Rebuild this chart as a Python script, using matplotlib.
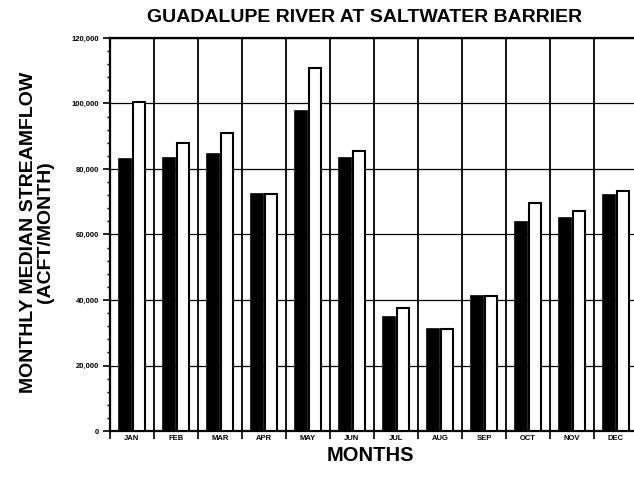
import numpy as np
import matplotlib
matplotlib.use("Agg")
import matplotlib.pyplot as plt
from matplotlib.ticker import MultipleLocator, FuncFormatter

plt.rcParams['font.family'] = ['Liberation Sans', 'DejaVu Sans']

months = ["JAN", "FEB", "MAR", "APR", "MAY", "JUN",
          "JUL", "AUG", "SEP", "OCT", "NOV", "DEC"]
# monthly median streamflow, acre-feet per month
flow_a = [83000, 83500, 84500, 72500, 97700, 83300,
          34800, 31000, 41200, 63800, 65000, 72000]
flow_b = [100500, 88000, 91000, 72500, 110800, 85500,
          37500, 31000, 41200, 69500, 67200, 73400]

fig = plt.figure(figsize=(6.34, 4.86), dpi=100)
# plot area runs a little past the right edge of the page
ax = fig.add_axes([110 / 634, 55 / 486, 528 / 634, 393 / 486])

x = np.arange(len(months))
w = 0.28
ax.bar(x - w / 2 - 0.02, flow_a, w, color="black", edgecolor="black",
       linewidth=1.2, zorder=3)
ax.bar(x + w / 2 + 0.02, flow_b, w, color="white", edgecolor="black",
       linewidth=1.5, zorder=3)

ax.set_xlim(-0.5, 11.5)
ax.set_ylim(0, 120000)

# month boundaries as gridlines, labels in between
ax.set_xticks(np.arange(-0.5, 12, 1))
ax.set_xticklabels([])
ax.set_xticks(x, minor=True)
ax.set_xticklabels(months, minor=True, fontsize=5.5, fontweight="bold")
ax.tick_params(axis="x", which="major", direction="out", length=6,
               width=1.2, color="black")
ax.tick_params(axis="x", which="minor", length=0, pad=3)

ax.yaxis.set_major_locator(MultipleLocator(20000))
ax.yaxis.set_minor_locator(MultipleLocator(4000))
ax.yaxis.set_major_formatter(FuncFormatter(lambda v, p: f"{int(v):,}"))
ax.tick_params(axis="y", which="major", direction="out", length=5,
               width=1.2, labelsize=5.5, pad=3)
ax.tick_params(axis="y", which="minor", direction="out", length=2.5,
               width=1.0)
for lab in ax.get_yticklabels():
    lab.set_fontweight("bold")

ax.grid(True, which="major", axis="x", color="black", linewidth=1.3, zorder=0)
ax.grid(True, which="major", axis="y", color="black", linewidth=0.9, zorder=0)

for side in ["left", "bottom", "top"]:
    ax.spines[side].set_linewidth(1.6)
ax.spines["right"].set_visible(False)

fig.text(365 / 634, 1 - 17 / 486, "GUADALUPE RIVER AT SALTWATER BARRIER",
         ha="center", va="center", fontsize=14, fontweight="bold")
fig.text(37 / 634, 1 - 232 / 486, "MONTHLY MEDIAN STREAMFLOW\n(ACFT/MONTH)",
         ha="center", va="center", rotation=90, fontsize=14,
         fontweight="bold", linespacing=1.0)
fig.text(370 / 634, 1 - 455 / 486, "MONTHS", ha="center", va="center",
         fontsize=14.5, fontweight="bold")

fig.savefig("out.png", dpi=100)
